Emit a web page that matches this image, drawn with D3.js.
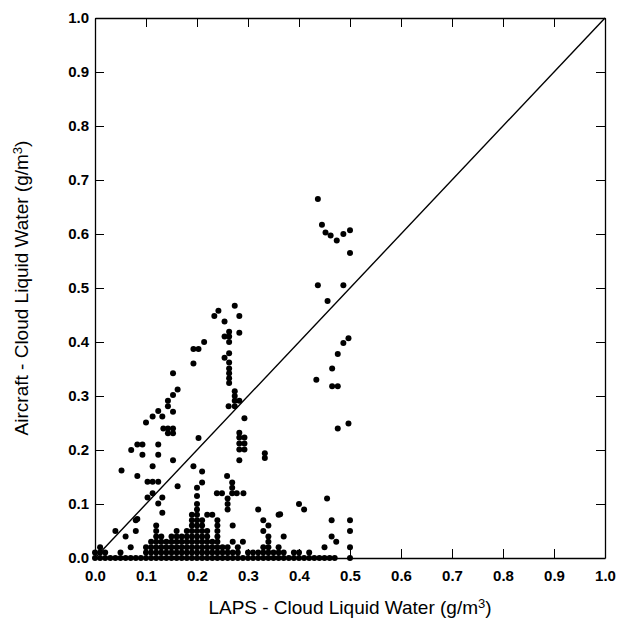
<!DOCTYPE html>
<html>
<head>
<meta charset="utf-8">
<script src="https://cdn.jsdelivr.net/npm/d3@7"></script>
<style>
  body { margin: 0; background: #fff; }
  text { font-family: "Liberation Sans", Arial, Helvetica, sans-serif; fill: #000; }
  .tick text { font-size: 15px; font-weight: bold; }
  .axis-title { font-size: 19px; }
</style>
</head>
<body>
<script>
// LAPS cloud liquid water (x) vs aircraft-measured (y), g/m3

var tickValues = [0, 0.1, 0.2, 0.3, 0.4, 0.5, 0.6, 0.7, 0.8, 0.9, 1.0];

// LAPS values where the aircraft measured no liquid water
var zeroLaps = [0.00, 0.01, 0.02, 0.03, 0.04, 0.05, 0.06, 0.07, 0.08, 0.09,
  0.10, 0.11, 0.12, 0.13, 0.14, 0.15, 0.16, 0.17, 0.18, 0.19,
  0.20, 0.21, 0.22, 0.23, 0.24, 0.25, 0.26, 0.27, 0.28, 0.29,
  0.30, 0.31, 0.32, 0.33, 0.34, 0.35, 0.36, 0.37, 0.38, 0.39,
  0.40, 0.41, 0.42, 0.43, 0.44, 0.45, 0.46, 0.47, 0.50];

// [laps, aircraft] pairs, low water amounts
var lowPoints = [
  [0.00, 0.01], [0.01, 0.01], [0.01, 0.02], [0.02, 0.01], [0.04, 0.05], [0.05, 0.01],
  [0.06, 0.04], [0.07, 0.02], [0.08, 0.05], [0.08, 0.07],
  [0.10, 0.01], [0.10, 0.02], [0.11, 0.01], [0.11, 0.02], [0.11, 0.03],
  [0.12, 0.01], [0.12, 0.02], [0.12, 0.03], [0.12, 0.04], [0.12, 0.05], [0.12, 0.06],
  [0.13, 0.01], [0.13, 0.02], [0.13, 0.03], [0.13, 0.04],
  [0.14, 0.01], [0.14, 0.02], [0.14, 0.03],
  [0.15, 0.01], [0.15, 0.02], [0.15, 0.03], [0.15, 0.04],
  [0.16, 0.01], [0.16, 0.02], [0.16, 0.03], [0.16, 0.04], [0.16, 0.05],
  [0.17, 0.01], [0.17, 0.02], [0.17, 0.03], [0.17, 0.04],
  [0.18, 0.01], [0.18, 0.02], [0.18, 0.03], [0.18, 0.04], [0.18, 0.05],
  [0.19, 0.01], [0.19, 0.02], [0.19, 0.03], [0.19, 0.04], [0.19, 0.05], [0.19, 0.06], [0.19, 0.07], [0.19, 0.08],
  [0.20, 0.01], [0.20, 0.02], [0.20, 0.03], [0.20, 0.04], [0.20, 0.05], [0.20, 0.06], [0.20, 0.07], [0.20, 0.08], [0.20, 0.09], [0.20, 0.10],
  [0.21, 0.01], [0.21, 0.02], [0.21, 0.03], [0.21, 0.04], [0.21, 0.05], [0.21, 0.06], [0.21, 0.07],
  [0.22, 0.01], [0.22, 0.02], [0.22, 0.03], [0.22, 0.04], [0.22, 0.05], [0.22, 0.08],
  [0.23, 0.01], [0.23, 0.02], [0.23, 0.03], [0.23, 0.08],
  [0.24, 0.01], [0.24, 0.02], [0.24, 0.03], [0.24, 0.04], [0.24, 0.05], [0.24, 0.06], [0.24, 0.07],
  [0.25, 0.01], [0.25, 0.02],
  [0.26, 0.01], [0.26, 0.02], [0.26, 0.09], [0.26, 0.10], [0.26, 0.11],
  [0.27, 0.01], [0.27, 0.03], [0.27, 0.06], [0.28, 0.01], [0.28, 0.02], [0.29, 0.03],
  [0.30, 0.01], [0.31, 0.01], [0.32, 0.01], [0.32, 0.09],
  [0.33, 0.01], [0.33, 0.02], [0.33, 0.05], [0.33, 0.07],
  [0.34, 0.01], [0.34, 0.02], [0.34, 0.03], [0.34, 0.04], [0.34, 0.06],
  [0.35, 0.01], [0.36, 0.01], [0.36, 0.02], [0.36, 0.08], [0.37, 0.01], [0.37, 0.04],
  [0.39, 0.01], [0.40, 0.01], [0.40, 0.10], [0.41, 0.09], [0.42, 0.01],
  [0.45, 0.02], [0.455, 0.11], [0.464, 0.04], [0.464, 0.07], [0.473, 0.03],
  [0.50, 0.02], [0.50, 0.05], [0.50, 0.07]
];

// [laps, aircraft] pairs, scattered points above the low cluster
var scatterPoints = [
  [0.052, 0.162], [0.083, 0.152], [0.113, 0.17], [0.103, 0.141], [0.113, 0.141], [0.124, 0.141],
  [0.113, 0.12], [0.103, 0.112], [0.132, 0.112], [0.124, 0.101], [0.132, 0.084], [0.083, 0.072],
  [0.162, 0.133], [0.153, 0.181], [0.193, 0.17], [0.21, 0.16], [0.20, 0.13], [0.21, 0.14],
  [0.259, 0.152], [0.269, 0.14], [0.269, 0.13], [0.269, 0.12], [0.239, 0.12], [0.249, 0.12],
  [0.278, 0.12], [0.291, 0.12], [0.20, 0.115], [0.333, 0.194], [0.333, 0.185], [0.363, 0.081],
  [0.071, 0.20], [0.083, 0.21], [0.093, 0.21], [0.124, 0.21], [0.093, 0.191], [0.124, 0.191],
  [0.10, 0.251], [0.113, 0.262], [0.132, 0.262], [0.124, 0.272], [0.134, 0.24], [0.143, 0.24],
  [0.153, 0.24], [0.143, 0.231], [0.153, 0.231], [0.153, 0.271], [0.143, 0.281], [0.143, 0.291],
  [0.153, 0.302], [0.162, 0.312], [0.153, 0.342],
  [0.193, 0.387], [0.203, 0.387], [0.214, 0.40], [0.193, 0.36], [0.203, 0.222],
  [0.234, 0.448], [0.242, 0.458], [0.274, 0.467], [0.283, 0.448], [0.254, 0.438], [0.263, 0.419],
  [0.283, 0.417], [0.254, 0.41], [0.263, 0.41], [0.263, 0.40], [0.254, 0.371], [0.263, 0.379],
  [0.263, 0.362], [0.263, 0.351], [0.263, 0.342], [0.263, 0.333], [0.263, 0.324],
  [0.274, 0.309], [0.274, 0.30], [0.274, 0.291], [0.283, 0.291], [0.262, 0.281], [0.274, 0.281],
  [0.293, 0.259], [0.283, 0.232], [0.283, 0.223], [0.293, 0.223], [0.283, 0.212], [0.293, 0.212],
  [0.283, 0.201], [0.293, 0.201], [0.283, 0.181]
];

// [laps, aircraft] pairs, cluster near LAPS = 0.45
var rightPoints = [
  [0.437, 0.665], [0.445, 0.617], [0.452, 0.603], [0.462, 0.597], [0.474, 0.588], [0.487, 0.60],
  [0.50, 0.607], [0.50, 0.565], [0.437, 0.505], [0.487, 0.505], [0.456, 0.476],
  [0.497, 0.407], [0.487, 0.398], [0.476, 0.378], [0.465, 0.351], [0.434, 0.33],
  [0.465, 0.318], [0.476, 0.318], [0.476, 0.24], [0.497, 0.249]
];

var points = zeroLaps.map(x => [x, 0]).concat(lowPoints, scatterPoints, rightPoints);

var margin = {top: 18, right: 13, bottom: 65, left: 95},
    width = 618 - margin.left - margin.right,
    height = 623 - margin.top - margin.bottom;

var svg = d3.select("body").append("svg")
    .attr("width", 618)
    .attr("height", 623);
var g = svg.append("g")
    .attr("transform", `translate(${margin.left}, ${margin.top})`);

var x = d3.scaleLinear().domain([0, 1]).range([0, width]),
    y = d3.scaleLinear().domain([0, 1]).range([height, 0]);

var fmt = d3.format(".1f");

// bottom and left axes with labels, ticks pointing in
g.append("g")
    .attr("transform", `translate(0, ${height})`)
    .call(d3.axisBottom(x).tickValues(tickValues).tickFormat(fmt).tickSizeInner(-9).tickSizeOuter(0).tickPadding(12));
g.append("g")
    .call(d3.axisLeft(y).tickValues(tickValues).tickFormat(fmt).tickSizeInner(-9).tickSizeOuter(0).tickPadding(6));
// top and right: ticks only
g.append("g")
    .call(d3.axisTop(x).tickValues(tickValues).tickFormat("").tickSizeInner(-9).tickSizeOuter(0));
g.append("g")
    .attr("transform", `translate(${width}, 0)`)
    .call(d3.axisRight(y).tickValues(tickValues).tickFormat("").tickSizeInner(-9).tickSizeOuter(0));

g.selectAll(".domain").attr("stroke", "#000").attr("stroke-width", 1.3);
g.selectAll(".tick line").attr("stroke", "#000").attr("stroke-width", 1);

// 1:1 line
g.append("line")
    .attr("x1", x(0)).attr("y1", y(0))
    .attr("x2", x(1)).attr("y2", y(1))
    .attr("stroke", "#000")
    .attr("stroke-width", 1.4);

g.append("g")
    .selectAll("circle")
    .data(points)
    .enter()
    .append("circle")
    .attr("cx", d => x(d[0]))
    .attr("cy", d => y(d[1]))
    .attr("r", 3)
    .attr("fill", "#000");

// axis titles
var xt = svg.append("text")
    .attr("class", "axis-title")
    .attr("x", margin.left + width / 2)
    .attr("y", 614)
    .attr("text-anchor", "middle")
    .text("LAPS - Cloud Liquid Water (g/m");
xt.append("tspan").attr("font-size", "13px").attr("dy", -6).text("3");
xt.append("tspan").attr("dy", 6).text(")");

var yt = svg.append("text")
    .attr("class", "axis-title")
    .attr("transform", `translate(28, ${margin.top + height / 2}) rotate(-90)`)
    .attr("text-anchor", "middle")
    .text("Aircraft - Cloud Liquid Water (g/m");
yt.append("tspan").attr("font-size", "13px").attr("dy", -6).text("3");
yt.append("tspan").attr("dy", 6).text(")");
</script>
</body>
</html>
